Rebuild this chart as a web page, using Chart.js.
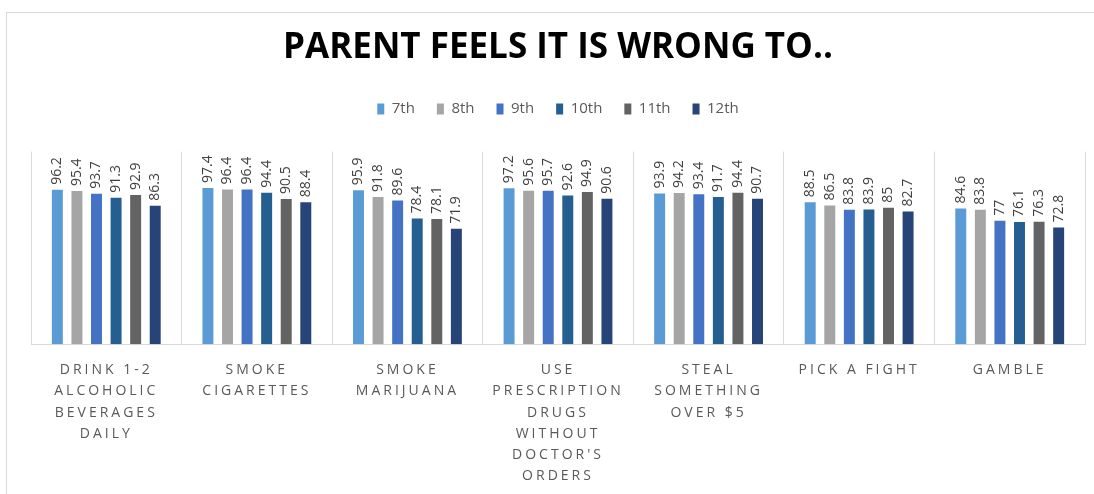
<!DOCTYPE html>
<html>
<head>
<meta charset="utf-8">
<script src="https://cdn.jsdelivr.net/npm/chart.js@4"></script>
<style>
  html, body { margin: 0; padding: 0; background: #fff; overflow: hidden; }
  #frame { position: absolute; left: 6px; top: 12px; width: 1100px; height: 500px; border: 1px solid #d9d9d9; }
  #chart { position: absolute; left: 0; top: 0; }
</style>
</head>
<body>
<div id="frame"></div>
<canvas id="chart" width="1094" height="494"></canvas>
<script>
var categories = [
  ['DRINK 1-2', 'ALCOHOLIC', 'BEVERAGES', 'DAILY'],
  ['SMOKE', 'CIGARETTES'],
  ['SMOKE', 'MARIJUANA'],
  ['USE', 'PRESCRIPTION', 'DRUGS', 'WITHOUT', "DOCTOR'S", 'ORDERS'],
  ['STEAL', 'SOMETHING', 'OVER $5'],
  ['PICK A FIGHT'],
  ['GAMBLE']
];
var grades = ['7th', '8th', '9th', '10th', '11th', '12th'];
var grade7  = [96.2, 97.4, 95.9, 97.2, 93.9, 88.5, 84.6];
var grade8  = [95.4, 96.4, 91.8, 95.6, 94.2, 86.5, 83.8];
var grade9  = [93.7, 96.4, 89.6, 95.7, 93.4, 83.8, 77];
var grade10 = [91.3, 94.4, 78.4, 92.6, 91.7, 83.9, 76.1];
var grade11 = [92.9, 90.5, 78.1, 94.9, 94.4, 85, 76.3];
var grade12 = [86.3, 88.4, 71.9, 90.6, 90.7, 82.7, 72.8];
var colors = ['#5b9bd5', '#a5a5a5', '#4472c4', '#255e91', '#636363', '#264478'];

var series = [grade7, grade8, grade9, grade10, grade11, grade12];
var datasets = [];
for (var i = 0; i < series.length; i++) {
  datasets.push({
    label: grades[i],
    data: series[i],
    backgroundColor: colors[i],
    borderWidth: 0,
    barPercentage: 0.56,
    categoryPercentage: 0.78
  });
}

// rotated value labels above bars, then spaced-out category labels
var barLabels = {
  id: 'barLabels',
  beforeDraw: function(chart) {
    chart.ctx.letterSpacing = '0px';
  },
  afterDatasetsDraw: function(chart) {
    var ctx = chart.ctx;
    ctx.save();
    ctx.font = '14px "Open Sans"';
    ctx.fillStyle = '#404040';
    ctx.textAlign = 'left';
    ctx.textBaseline = 'middle';
    chart.data.datasets.forEach(function(ds, di) {
      var meta = chart.getDatasetMeta(di);
      meta.data.forEach(function(bar, j) {
        ctx.save();
        ctx.translate(bar.x, bar.y - 5);
        ctx.rotate(-Math.PI / 2);
        ctx.fillText(String(ds.data[j]), 0, 0);
        ctx.restore();
      });
    });
    ctx.restore();
    ctx.letterSpacing = '3px';
  },
  afterDraw: function(chart) {
    chart.ctx.letterSpacing = '0px';
  }
};

new Chart(document.getElementById('chart'), {
  type: 'bar',
  data: { labels: categories, datasets: datasets },
  plugins: [barLabels],
  options: {
    responsive: false,
    animation: false,
    devicePixelRatio: 1,
    layout: { padding: { left: 31, right: 9, top: 0, bottom: -8 } },
    plugins: {
      title: {
        display: true,
        text: 'PARENT FEELS IT IS WRONG TO..',
        color: '#000',
        font: { family: '"Open Sans"', size: 35, weight: 'bold', lineHeight: 1.2 },
        padding: { top: 27, bottom: 10.6 }
      },
      subtitle: {
        display: true,
        text: '',
        weight: 500,
        font: { size: 1, lineHeight: 1 },
        padding: { top: 0, bottom: 24 }
      },
      legend: {
        position: 'top',
        labels: {
          boxWidth: 7,
          boxHeight: 11,
          padding: 22,
          color: '#595959',
          font: { family: '"Open Sans"', size: 15 }
        }
      },
      tooltip: { enabled: false }
    },
    scales: {
      x: {
        grid: { display: true, color: '#d9d9d9', drawTicks: false },
        border: { color: '#d9d9d9' },
        ticks: {
          z: 1,
          autoSkip: false,
          maxRotation: 0,
          padding: 15,
          color: '#595959',
          font: { family: '"Open Sans"', size: 14, lineHeight: 1.52 }
        }
      },
      y: {
        display: false,
        min: 0,
        max: 120
      }
    }
  }
});
</script>
</body>
</html>
